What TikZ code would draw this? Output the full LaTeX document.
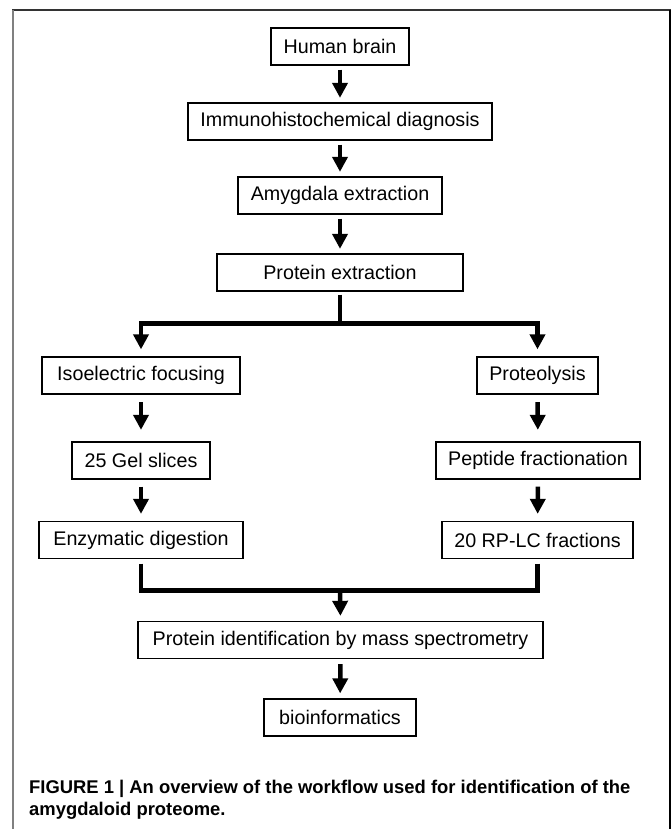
\documentclass[tikz,border=0pt]{standalone}
\usepackage{fontspec}
\setmainfont{Liberation Sans}
\usetikzlibrary{arrows.meta}
\begin{document}
\begin{tikzpicture}[x=1pt,y=-1pt,
  box/.style={draw=black,line width=1.3pt,minimum height=37pt,inner sep=0pt,font=\fontsize{19.7}{22}\selectfont},
  conn/.style={line width=4.5pt,black,line join=miter},
  arr/.style={conn,-{Triangle[length=15pt,width=15pt]}},
  caption/.style={font=\bfseries\fontsize{18.4}{22}\selectfont,align=left,inner sep=0pt,anchor=base west}]
\useasboundingbox (0,0) rectangle (671,829);
% frame
\draw[line width=1.5pt,black!80] (12,10) -- (671,10);
\draw[line width=2.2pt,black!50] (13,10) -- (13,829);
\draw[line width=2pt,black] (670,10) -- (670,829);
% nodes
\node[box,minimum width=138pt] (hb) at (340,46.5) {Human brain};
\node[box,minimum width=304pt] (imm) at (340,121.5) {Immunohistochemical diagnosis};
\node[box,minimum width=204pt] (amy) at (340,195.5) {Amygdala extraction};
\node[box,minimum width=246pt] (pe) at (340,272.5) {Protein extraction};
\node[box,minimum width=198pt] (iso) at (141,375.5) {Isoelectric focusing};
\node[box,minimum width=121pt] (prot) at (537.5,375.5) {Proteolysis};
\node[box,minimum width=138pt] (gel) at (141,460.5) {25 Gel slices};
\node[box,minimum width=204pt] (pep) at (538,460.5) {Peptide fractionation};
\node[box,minimum width=204pt] (enz) at (141,540) {Enzymatic digestion};
\node[box,minimum width=191pt] (rp) at (537.5,540) {20 RP-LC fractions};
\node[box,minimum width=405pt] (pid) at (340.5,640) {Protein identification by mass spectrometry};
\node[box,minimum width=152pt] (bio) at (340,717.5) {bioinformatics};
\coordinate (split) at (340,323.3);
\coordinate (merge) at (340,590.5);
% connectors
\draw[arr,shorten <=4pt,shorten >=4.5pt] (hb) -- (imm);
\draw[arr,shorten <=4pt,shorten >=4.5pt] (imm) -- (amy);
\draw[arr,shorten <=4pt,shorten >=4.5pt] (amy) -- (pe);
\draw[conn,shorten <=3pt] (pe.south) -- (split);
\draw[arr,shorten >=7pt] (split) -| (iso.north);
\draw[arr,shorten >=7pt] (split) -| (prot.north);
\draw[arr,shorten <=7.5pt,shorten >=11.5pt] (iso) -- (gel);
\draw[arr,shorten <=7.5pt,shorten >=11.5pt] (prot) -- (pep);
\draw[arr,shorten <=7pt,shorten >=7pt] (gel) -- (enz);
\draw[arr,shorten <=7pt,shorten >=7pt] (pep) -- (rp);
\draw[conn,shorten <=4.5pt] (enz.south) |- (merge);
\draw[conn,shorten <=4.5pt] (rp.south) |- (merge);
\draw[arr,shorten >=5pt] (merge) -- (pid.north);
\draw[arr,shorten <=5pt,shorten >=5pt] (pid) -- (bio);
% caption (anchor is the baseline of the last line)
\node[caption] (cap) at (29,815) {FIGURE 1 | An overview of the workflow used for identification of the\\amygdaloid proteome.};
\end{tikzpicture}
\end{document}
